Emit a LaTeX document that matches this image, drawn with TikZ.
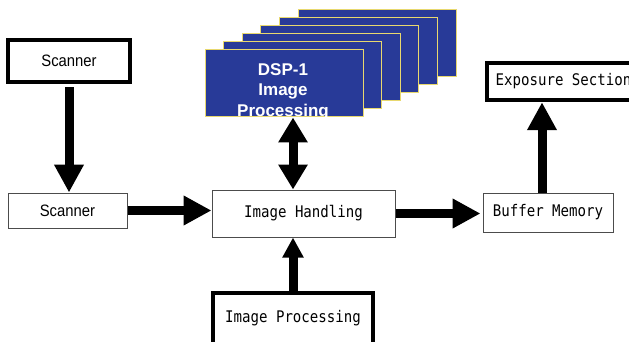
\documentclass[tikz,border=0pt]{standalone}
\usepackage{fontspec}
\usepackage{tikz}
\usetikzlibrary{arrows.meta}
\newfontfamily\gothicfont[FakeStretch=0.88]{DejaVu Sans Mono}
\newfontfamily\narrowfont[FakeStretch=0.9]{Liberation Sans}
\newfontfamily\dspfont{Liberation Sans}
\definecolor{dspblue}{RGB}{40,58,152}
\definecolor{dspedge}{RGB}{232,216,110}

\begin{document}
\begin{tikzpicture}[
		x=1pt, y=-1pt,
		thinbox/.style={draw=black!70, line width=1pt, fill=white, inner sep=0pt},
		thickbox/.style={draw=black, line width=4.5pt, fill=white, inner sep=0pt},
		card/.style={draw=dspedge, line width=1pt, fill=dspblue, minimum width=158pt, minimum height=67pt, inner sep=0pt},
		bigarrow/.style={line width=9pt, -{Triangle[length=28pt,width=28pt]}},
		smallarrow/.style={line width=9pt, -{Triangle[length=20pt,width=20pt]}},
		dblarrow/.style={line width=9pt, {Triangle[length=25pt,width=28pt]}-{Triangle[length=25pt,width=28pt]}}
		]
		
		% Picture frame
		\clip (0,0) rectangle (629,342);
		\fill[white] (0,0) rectangle (629,342);
		
		% Stack of DSP cards, back to front
		\foreach \i in {5,4,...,0}
			\node[card] (dsp\i) at ({284+18.6*\i},{83.5-8*\i}) {};
		
		% Text on the front card, cut off at its lower edge
		\begin{scope}
			\clip (dsp0.north west) rectangle (dsp0.south east);
			\node[text=white, align=center, font=\dspfont\bfseries\fontsize{17}{20.5}\selectfont,
				anchor=north] (dsptext) at (283,60) {DSP-1\\Image\\Processing};
		\end{scope}
		
		% Boxes
		\node[thickbox, minimum width=122pt, minimum height=42pt, font=\narrowfont\fontsize{16.5}{18}\selectfont]
			(scanA) at (69,61) {Scanner};
		\node[thinbox, minimum width=119pt, minimum height=35pt, font=\narrowfont\fontsize{16.5}{18}\selectfont]
			(scanB) at (67.5,210.5) {Scanner};
		\node[thinbox, minimum width=183pt, minimum height=47pt, font=\gothicfont\fontsize{16}{18}\selectfont]
			(handling) at (303.5,213.5) {Image Handling};
		\node[thickbox, minimum width=160pt, minimum height=56pt, text depth=9pt, font=\gothicfont\fontsize{16}{18}\selectfont]
			(improc) at (293,321) {Image Processing};
		\node[thinbox, minimum width=130pt, minimum height=39pt, font=\gothicfont\fontsize{16}{18}\selectfont]
			(buffer) at (548,212.5) {Buffer Memory};
		\node[thickbox, minimum width=153pt, minimum height=37pt, font=\gothicfont\fontsize{16}{18}\selectfont]
			(expo) at (563.5,81.5) {Exposure Section};
		
		% Arrows
		\draw[bigarrow, shorten <=3pt] (scanA.south) -- (scanA.south |- scanB.north);
		\draw[bigarrow] (scanB.east) -- (scanB.east -| handling.west);
		\draw[bigarrow, shorten >=2pt] (handling.east) -- (handling.east -| buffer.west);
		\draw[bigarrow] ([xshift=-6pt]buffer.north) -- ([xshift=-6pt]buffer.north |- expo.south);
		\draw[smallarrow] (improc.north) -- (improc.north |- handling.south);
		\draw[dblarrow] ([xshift=9pt]dsp0.south) -- ([xshift=9pt]dsp0.south |- handling.north);
		
	\end{tikzpicture}
\end{document}
